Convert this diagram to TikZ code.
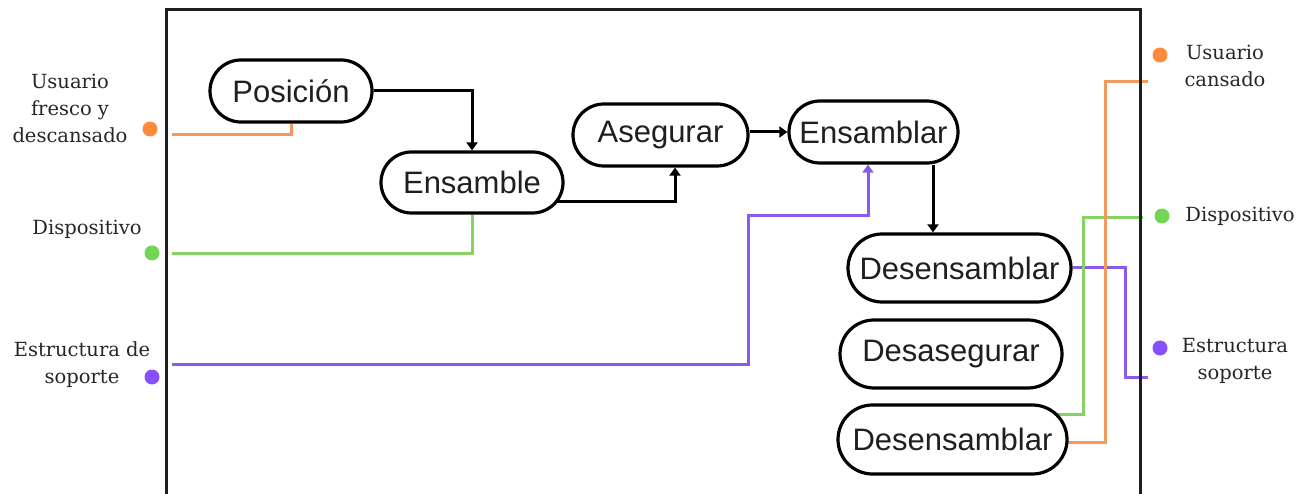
\documentclass[tikz,border=0pt]{standalone}
\usepackage{fontspec}
\setmainfont{Liberation Sans}
\newfontfamily\labelfont{DejaVu Serif}
\usetikzlibrary{arrows.meta,calc,shapes.misc}
\pgfdeclarelayer{bg}
\pgfsetlayers{bg,main}
\definecolor{orangeline}{HTML}{F29A5E}
\definecolor{orangedot}{HTML}{FF8A3D}
\definecolor{greenline}{HTML}{86D265}
\definecolor{greendot}{HTML}{74D453}
\definecolor{purpleline}{HTML}{8A5BEA}
\definecolor{purpledot}{HTML}{8550FF}
\definecolor{labeltext}{HTML}{262626}
\begin{document}
\begin{tikzpicture}[x=1pt,y=-1pt,
  stage/.style={rounded rectangle, draw=black, line width=3.2pt, fill=white,
    inner sep=0pt, text=black!88, font=\fontsize{31}{36}\selectfont},
  flow/.style={line width=3pt, -{Triangle[width=11pt,length=8pt]}},
  link/.style={line width=3pt},
  side/.style={font=\labelfont\fontsize{19.5}{27}\selectfont, text=labeltext, align=center, inner sep=0pt},
  dot/.style={circle, inner sep=0pt, minimum size=15pt}]
\useasboundingbox (0,0) rectangle (1312,494);

% process stages
\node[stage, minimum width=162pt, minimum height=62pt] (pos)  at (291,91)    {Posición};
\node[stage, minimum width=182pt, minimum height=61pt] (ens)  at (472,182.5) {Ensamble};
\node[stage, minimum width=175pt, minimum height=62pt] (aseg) at (660.5,135) {Asegurar};
\node[stage, minimum width=169pt, minimum height=62pt] (ensl) at (873.5,132) {Ensamblar};
\node[stage, minimum width=223pt, minimum height=68pt] (des1) at (959.5,268) {Desensamblar};
\node[stage, minimum width=222pt, minimum height=68pt] (desa) at (951,354)   {Desasegurar};
\node[stage, minimum width=229pt, minimum height=69pt] (des2) at (952.5,439.5) {Desensamblar};

% inputs on the left
\node[dot, fill=orangedot] (oin) at (150,129) {};
\node[dot, fill=greendot]  (gin) at (152,253) {};
\node[dot, fill=purpledot] (pin) at (152,377) {};
\node[side] (loin) at (70,108) {Usuario\\fresco y\\descansado};
\node[side] (lgin) at (87,229) {Dispositivo};
\node[side] (lpin) at (82,365) {Estructura de\\soporte};

% outputs on the right
\node[dot, fill=orangedot] (oout) at (1160,55) {};
\node[dot, fill=greendot]  (gout) at (1162,216) {};
\node[dot, fill=purpledot] (pout) at (1160,348) {};
\node[side] (loout) at (1225,66)  {Usuario\\cansado};
\node[side] (lgout) at (1240,216) {Dispositivo};
\node[side] (lpout) at (1235,361) {Estructura\\soporte};

% wire ends and bends
\coordinate (oL) at (172,135);
\coordinate (gL) at (172,254);
\coordinate (pL) at (172,364);
\coordinate (pbend) at (748,216);
\coordinate (pRk) at (1125,377);
\coordinate (pR)  at (1148,377);
\coordinate (gRk) at (1083,218);
\coordinate (gR)  at (1143,218);
\coordinate (oRk) at (1105,82);
\coordinate (oR)  at (1148,82);

\begin{pgfonlayer}{bg}
  % main flow
  \draw[flow] (pos.east) -| (ens.north);
  \draw[flow] ([yshift=-19.5pt]ens.center) -| ([xshift=14.5pt]aseg.south);
  \draw[flow] (aseg.east |- ensl.west) -- (ensl.west);
  \draw[flow] ([xshift=59.5pt]ensl.south) -- ([xshift=59.5pt]ensl.south |- des1.north);
  % inputs
  \draw[link, orangeline] (oL) -| (pos.south);
  \draw[link, greenline]  (gL) -| (ens.south);
  \draw[flow, purpleline] (pL) -| (pbend) -| ([xshift=-5.5pt]ensl.south);
  % outputs
  \draw[link, purpleline] (des1.east) -| (pRk) -- (pR);
  \draw[link, greenline]  ([yshift=25.5pt]des2.center) -| (gRk) -- (gR);
  \draw[link, orangeline] ([yshift=-2.5pt]des2.center) -| (oRk) -- (oR);
\end{pgfonlayer}

% system boundary
\draw[line width=3pt, black!88] (166,510) -- (166,10) -- (1140,10) -- (1140,510);
\end{tikzpicture}
\end{document}
